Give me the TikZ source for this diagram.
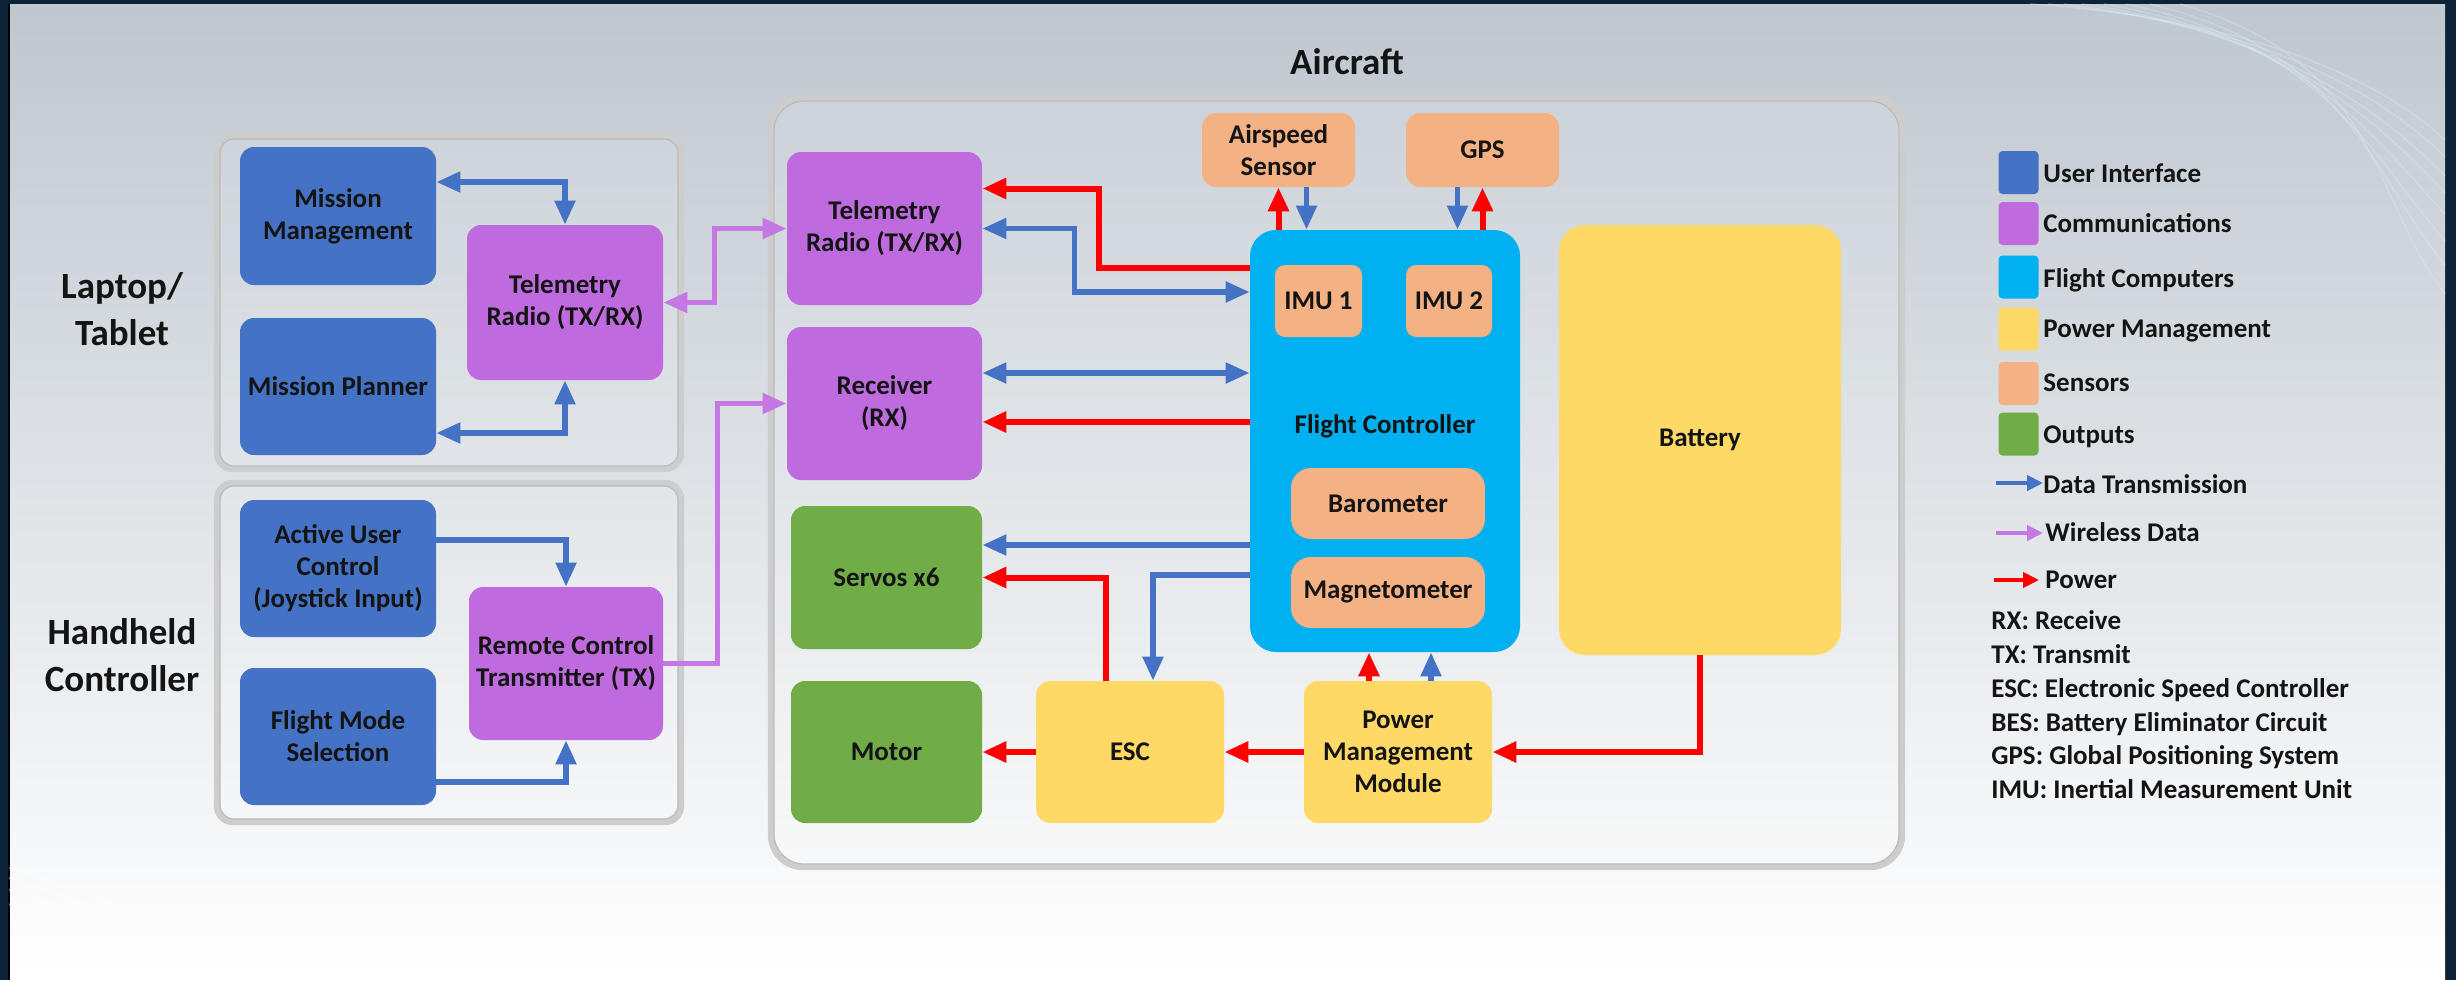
\documentclass[tikz,border=0pt]{standalone}
\usepackage{fontspec}
\setmainfont{Carlito}
\usetikzlibrary{arrows.meta}

\definecolor{frame}{HTML}{0C2235}
\definecolor{bgtop}{HTML}{BFC7CF}
\definecolor{bgmid}{HTML}{DEE2E6}
\definecolor{grpline}{HTML}{CDCDCD}
\definecolor{grpedge}{HTML}{BBBBBB}
\definecolor{cUI}{HTML}{4472C4}
\definecolor{cCom}{HTML}{BF6BDF}
\definecolor{cFC}{HTML}{00B0F0}
\definecolor{cPow}{HTML}{FFD966}
\definecolor{cSen}{HTML}{F4B183}
\definecolor{cOut}{HTML}{70AD47}
\definecolor{cData}{HTML}{4472C4}
\definecolor{cWifi}{HTML}{C577E3}
\definecolor{cPower}{HTML}{FF0000}
\definecolor{ink}{HTML}{141414}
\definecolor{streakc}{HTML}{E4F0F8}

\begin{document}
\begin{tikzpicture}[x=0.5pt,y=-0.5pt,
  blk/.style={rounded corners=7pt, inner sep=0pt, align=center, text=ink,
    font=\fontsize{13.5}{16}\selectfont\bfseries},
  ui/.style={blk, fill=cUI},
  com/.style={blk, fill=cCom},
  fcs/.style={blk, fill=cFC, rounded corners=13pt},
  pow/.style={blk, fill=cPow},
  sen/.style={blk, fill=cSen},
  senin/.style={blk, fill=cSen, rounded corners=10pt},
  outp/.style={blk, fill=cOut},
  grp/.style={draw=grpline, line width=3.2pt, fill=white, fill opacity=0.12, rounded corners=8pt},
  grpin/.style={draw=grpedge, line width=0.6pt},
  title/.style={inner sep=0pt, align=center, text=ink,
    font=\fontsize{18.5}{23.5}\selectfont\bfseries},
  legtxt/.style={anchor=base west, inner sep=0pt, text=ink,
    font=\fontsize{13.5}{16}\selectfont\bfseries},
  legsq/.style={rounded corners=2pt, minimum width=20pt, minimum height=21.5pt, inner sep=0pt},
  data/.style={draw=cData, line width=2.6pt, arrows={{Triangle[length=12pt,width=10pt]}-{Triangle[length=12pt,width=10pt]}}},
  wifi/.style={draw=cWifi, line width=2.6pt, arrows={{Triangle[length=12pt,width=10pt]}-{Triangle[length=12pt,width=10pt]}}},
  power/.style={draw=cPower, line width=3pt, arrows={{Triangle[length=12pt,width=10pt]}-{Triangle[length=12pt,width=10pt]}}},
  one/.style={arrows={-{Triangle[length=12pt,width=10pt]}}},
  legarrow/.style={line width=2pt, arrows={-{Triangle[length=8pt,width=7.5pt]}}},
  streak/.style={draw=streakc, line width=0.7pt, opacity=0.3}
]
\useasboundingbox (0,0) rectangle (2456,980);

% ---------- backdrop ----------
\fill[frame] (0,0) rectangle (2456,980);
\shade[top color=bgtop, middle color=bgmid, bottom color=white] (9,4) rectangle (2445,980);
\draw[black, line width=1pt] (9,4) -- (9,980);
\foreach \a/\b in {0/0,18/14,34/30,52/44,74/62,96/84,120/104,150/128}
  \draw[streak] (2030+\a,4) .. controls (2230+\a,18+\b/3) and (2370,70+\b) .. (2445,140+\b*1.2);
\foreach \a in {0,10,22,36}
  \draw[streak, draw=white, opacity=0.55] (9,868+\a) .. controls (80,890+\a) and (170,925+\a) .. (290,975+\a/4);

% ---------- groups ----------
\draw[grp] (217,136) rectangle (681,469);
\draw[grpin, rounded corners=7pt] (220,139) rectangle (678,466);
\draw[grp] (217,483) rectangle (681,822);
\draw[grpin, rounded corners=7pt] (220,486) rectangle (678,819);
\draw[grp, rounded corners=16pt] (771,98) rectangle (1902,867);
\draw[grpin, rounded corners=15pt] (774,101) rectangle (1899,864);

\node[title] (tlap) at (122,309) {Laptop/\\Tablet};
\node[title] (thh) at (122,655) {Handheld\\Controller};
\node[title, anchor=base] (tair) at (1347,74) {Aircraft};

% ---------- laptop / tablet ----------
\node[ui, minimum width=98pt, minimum height=69pt] (mm) at (338,216) {Mission\\Management};
\node[ui, minimum width=98pt, minimum height=68.5pt] (mp) at (338,386.5) {Mission Planner};
\node[com, minimum width=98pt, minimum height=77.5pt] (ltr) at (565,302.5) {Telemetry\\Radio (TX/RX)};

% ---------- handheld controller ----------
\node[ui, minimum width=98pt, minimum height=68.5pt] (auc) at (338,568.5) {Active User\\Control\\(Joystick Input)};
\node[ui, minimum width=98pt, minimum height=68.5pt] (fms) at (338,736.5) {Flight Mode\\Selection};
\node[com, minimum width=97pt, minimum height=76.5pt] (rct) at (566,663.5) {Remote Control\\Transmitter (TX)};

% ---------- aircraft ----------
\node[com, minimum width=97.5pt, minimum height=76.5pt] (atr) at (884.5,228.5) {Telemetry\\Radio (TX/RX)};
\node[com, minimum width=97.5pt, minimum height=76.5pt] (rx) at (884.5,403.5) {Receiver\\(RX)};
\node[outp, minimum width=95.5pt, minimum height=71.5pt] (srv) at (886.5,577.5) {Servos x6};
\node[outp, minimum width=95.5pt, minimum height=71pt] (mot) at (886.5,752) {Motor};
\node[pow, minimum width=94pt, minimum height=71pt] (esc) at (1130,752) {ESC};
\node[pow, minimum width=94pt, minimum height=71pt] (pmm) at (1398,752) {Power\\Management\\Module};
\node[sen, minimum width=76.5pt, minimum height=37pt] (air) at (1278.5,150) {Airspeed\\Sensor};
\node[sen, minimum width=76.5pt, minimum height=37pt] (gps) at (1482.5,150) {GPS};
\node[fcs, minimum width=135pt, minimum height=211pt] (fc) at (1385,441) {};
\node[blk, anchor=base] (fclab) at (1385,433) {Flight Controller};
\node[sen, rounded corners=5pt, minimum width=43.5pt, minimum height=36pt] (imu1) at (1318.5,301) {IMU 1};
\node[sen, rounded corners=5pt, minimum width=43pt, minimum height=36pt] (imu2) at (1449,301) {IMU 2};
\node[senin, minimum width=97pt, minimum height=35.5pt] (baro) at (1388,503.5) {Barometer};
\node[senin, minimum width=97pt, minimum height=35.5pt] (mag) at (1388,592.5) {Magnetometer};
\node[pow, rounded corners=13pt, minimum width=141pt, minimum height=215pt] (bat) at (1700,440) {Battery};

% ---------- connectors: laptop / handheld ----------
\draw[data] ([yshift=17pt]mm.east) -| (ltr.north);
\draw[data] ([yshift=-23.25pt]mp.east) -| (ltr.south);
\draw[data, one] ([yshift=14.25pt]auc.east) -| (rct.north);
\draw[data, one] ([yshift=-22.75pt]fms.east) -| (rct.south);

% ---------- wireless links ----------
\draw[wifi] (ltr.east) -- ++(51,0) |- (atr.west);
\draw[wifi, one] (rct.east) -- ++(54,0) |- (rx.west);

% ---------- connectors: aircraft ----------
\draw[power, one] ([yshift=86.5pt]fc.west) -- ++(-151,0) |- ([yshift=20pt]atr.east);
\draw[data] (atr.east) -- ++(92,0) |- ([yshift=74.5pt]fc.west);

\coordinate (rxD) at ([yshift=15.25pt]rx.east);
\draw[data] (rxD) -- (rxD -| fc.west);
\coordinate (rxP) at ([yshift=-9.25pt]rx.east);
\draw[power, one] (rxP -| fc.west) -- (rxP);

\coordinate (srvD) at ([yshift=16.25pt]srv.east);
\draw[data, one] (srvD -| fc.west) -- (srvD);
\draw[power, one] ([xshift=-12pt]esc.north) |- (srv.east);
\draw[data, one] ([yshift=-67pt]fc.west) -| ([xshift=11.5pt]esc.north);

\coordinate (pmmP) at ([xshift=-14.5pt]pmm.north);
\draw[power, one] (pmmP) -- (pmmP |- fc.south);
\coordinate (pmmD) at ([xshift=16.5pt]pmm.north);
\draw[data, one] (pmmD) -- (pmmD |- fc.south);

\draw[power, one] (esc.west) -- (mot.east);
\draw[power, one] (pmm.west) -- (esc.east);
\draw[power, one] (bat.south) |- (pmm.east);

\coordinate (airD) at ([xshift=14pt]air.south);
\draw[power, one] (air.south |- fc.north) -- (air.south);
\draw[data, one] (airD) -- (airD |- fc.north);
\coordinate (gpsD) at ([xshift=-12.5pt]gps.south);
\draw[data, one] (gpsD) -- (gpsD |- fc.north);
\draw[power, one] (gps.south |- fc.north) -- (gps.south);

% ---------- legend ----------
\node[legsq, fill=cUI]  (lq1) at (2018.5,172.5) {};
\node[legsq, fill=cCom] (lq2) at (2018.5,223.5) {};
\node[legsq, fill=cFC]  (lq3) at (2018.5,277) {};
\node[legsq, fill=cPow] (lq4) at (2018.5,329) {};
\node[legsq, fill=cSen] (lq5) at (2018.5,383.5) {};
\node[legsq, fill=cOut] (lq6) at (2018.5,434) {};
\node[legtxt] (lt1) at (2043,182) {User Interface};
\node[legtxt] (lt2) at (2043,232) {Communications};
\node[legtxt] (lt3) at (2043,287) {Flight Computers};
\node[legtxt] (lt4) at (2043,337) {Power Management};
\node[legtxt] (lt5) at (2043,391) {Sensors};
\node[legtxt] (lt6) at (2043,443) {Outputs};

\node[legtxt] (lt7) at (2043,493) {Data Transmission};
\coordinate (la7) at (1996,483);
\draw[cData, legarrow] (la7) -- (la7 -| lt7.west);
\node[legtxt] (lt8) at (2045,541) {Wireless Data};
\coordinate (la8) at (1996,533);
\draw[cWifi, legarrow] (la8) -- ([xshift=-1pt]la8 -| lt8.west);
\node[legtxt] (lt9) at (2045,588) {Power};
\coordinate (la9) at (1994,580);
\draw[cPower, legarrow] (la9) -- ([xshift=-3pt]la9 -| lt9.west);

\node[legtxt] (ab1) at (1991,629) {RX: Receive};
\node[legtxt] (ab2) at (1991,663) {TX: Transmit};
\node[legtxt] (ab3) at (1991,697) {ESC: Electronic Speed Controller};
\node[legtxt] (ab4) at (1991,731) {BES: Battery Eliminator Circuit};
\node[legtxt] (ab5) at (1991,764) {GPS: Global Positioning System};
\node[legtxt] (ab6) at (1991,798) {IMU: Inertial Measurement Unit};
\end{tikzpicture}
\end{document}
